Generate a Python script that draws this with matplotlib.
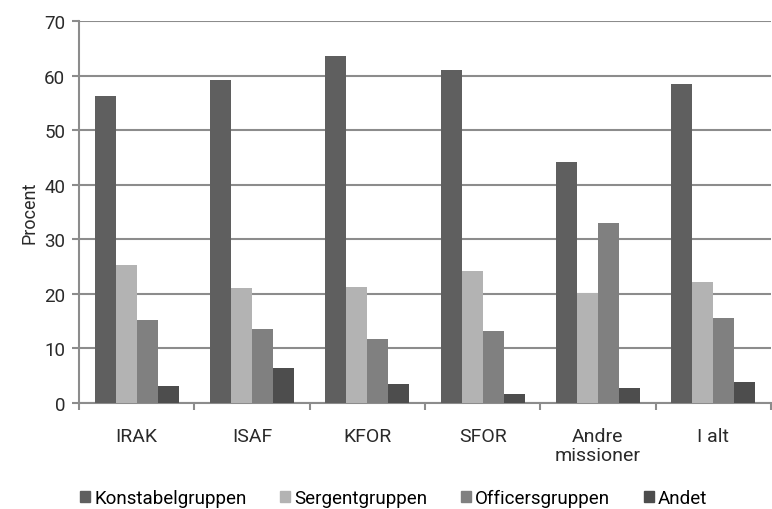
import numpy as np
import matplotlib.pyplot as plt

plt.rcParams['font.family'] = ['Roboto', 'DejaVu Sans']

# data
missioner = ['IRAK', 'ISAF', 'KFOR', 'SFOR', 'Andre\nmissioner', 'I alt']
konstabel = [56.3, 59.1, 63.6, 61.1, 44.2, 58.5]
sergent = [25.3, 21.0, 21.3, 24.1, 20.1, 22.1]
officer = [15.3, 13.5, 11.7, 13.2, 33.0, 15.5]
andet = [3.2, 6.5, 3.4, 1.7, 2.8, 3.8]

serier = ['Konstabelgruppen', 'Sergentgruppen', 'Officersgruppen', 'Andet']
farver = ['#5f5f5f', '#b3b3b3', '#808080', '#4d4d4d']

fig = plt.figure(figsize=(7.72, 5.10), dpi=100)
ax = fig.add_axes([0.1023, 0.2078, 0.8964, 0.7491])

x = np.arange(len(missioner))
w = 0.182
grid_col = '#8c8c8c'
txt_col = '#2a2a2a'

for i, (vals, navn, c) in enumerate(zip([konstabel, sergent, officer, andet], serier, farver)):
    pos = x - 1.5 * w + i * w
    ax.bar(pos, vals, w, color=c, label=navn, zorder=3)

ax.set_xlim(-0.5, len(missioner) - 0.5)
ax.set_ylim(0, 70)
ax.set_yticks(range(0, 71, 10))
ax.yaxis.grid(True, color=grid_col, linewidth=1.5, zorder=0)
ax.set_axisbelow(True)

ax.set_xticks(x)
ax.set_xticklabels(missioner, fontsize=14, color=txt_col, linespacing=1.1)
ax.set_xticks(np.arange(-0.5, len(missioner)), minor=True)
ax.tick_params(axis='x', which='major', length=0, pad=17)
ax.tick_params(axis='x', which='minor', length=5, width=1.5, color=grid_col)
ax.tick_params(axis='y', length=5, width=1.5, color=grid_col, labelsize=13.5,
               labelcolor=txt_col, pad=5)

for s in ['top', 'right']:
    ax.spines[s].set_visible(False)
for s in ['left', 'bottom']:
    ax.spines[s].set_color(grid_col)
    ax.spines[s].set_linewidth(1.5)

ax.set_ylabel('Procent', fontsize=13, color=txt_col, labelpad=4)

handles = [plt.Rectangle((0, 0), 1, 1, color=c) for c in farver]
fig.legend(handles, serier, loc='lower center', ncol=4, frameon=False,
           fontsize=13.5, bbox_to_anchor=(0.51, -0.03), handlelength=0.55,
           handleheight=0.55, handletextpad=0.2, columnspacing=1.8)

plt.savefig('out.png', dpi=100)
